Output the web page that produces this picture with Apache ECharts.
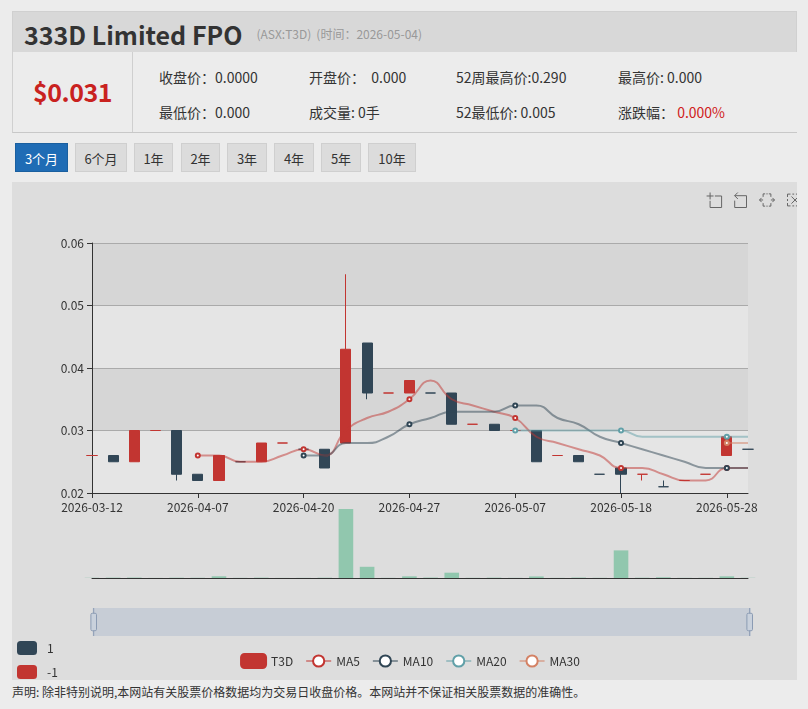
<!DOCTYPE html>
<html>
<head>
<meta charset="utf-8">
<title>333D Limited FPO</title>
<script src="https://cdn.jsdelivr.net/npm/echarts/dist/echarts.min.js"></script>
<style>
  body{
	margin:0;
	background:#ececec;
	font-family:"Noto Sans CJK SC","Noto Sans",sans-serif;
	color:#333;
  }
  .wrap{
	position:absolute;
	left:12px;
	top:11px;
	width:785px;
  }
  .stock_hd{
	height:41px;
	line-height:38px;
	background:#d8d8d8;
	border:1px solid #d0d0d0;
	border-bottom:none;
	padding-left:11px;
	box-sizing:border-box;
	white-space:nowrap;
  }
  .stock_hd b{
	font-size:25px;
	color:#333;
	vertical-align:middle;
  }
  .stock_hd span{
	font-size:12px;
	color:#999;
	margin-left:14px;
	vertical-align:middle;
  }
  .stock_hd span + span{margin-left:5px;}
  .stock_info{
	position:relative;
	height:80px;
	border-left:1px solid #d0d0d0;
	border-bottom:1px solid #c8c8c8;
  }
  .stock_price{
	position:absolute;
	left:0;
	top:0;
	width:119px;
	height:80px;
	line-height:78px;
	text-align:center;
	border-right:1px solid #cfcfcf;
	color:#c9221f;
	font-size:25px;
	font-weight:bold;
	letter-spacing:-0.5px;
  }
  .stock_item{
	position:absolute;
	font-size:14px;
	white-space:nowrap;
	line-height:20px;
  }
  .red{color:#d02020;}
  .btns{
	position:absolute;
	top:132px;
	left:3px;
  }
  .btn{
	position:absolute;
	top:0;
	height:29px;
	line-height:29px;
	text-align:center;
	font-size:13px;
	background:#dcdcdc;
	border:1px solid #cfcfcf;
	box-sizing:border-box;
	color:#333;
  }
  .btn.curr{
	background:#1f6cb5;
	border-color:#1a5f9f;
	color:#fff;
  }
  .chart_box{
	position:absolute;
	top:171px;
	left:0;
	width:785px;
	height:498px;
	background:#dddddd;
	overflow:hidden;
  }
  #chart{
	width:796px;
	height:500px;
  }
  .note{
	position:absolute;
	top:672px;
	left:0;
	font-size:12px;
	white-space:nowrap;
	color:#333;
  }
</style>
</head>
<body>
<div class="wrap">
	<div class="stock_hd"><b>333D Limited FPO</b><span>(ASX:T3D)</span><span>(时间：2026-05-04)</span></div>
	<div class="stock_info">
		<div class="stock_price">$0.031</div>
		<div class="stock_item" style="left:146px;top:15px;">收盘价：0.0000</div>
		<div class="stock_item" style="left:296px;top:15px;">开盘价：&nbsp; 0.000</div>
		<div class="stock_item" style="left:443px;top:15px;">52周最高价:0.290</div>
		<div class="stock_item" style="left:605px;top:15px;">最高价: 0.000</div>
		<div class="stock_item" style="left:146px;top:50px;">最低价：0.000</div>
		<div class="stock_item" style="left:296px;top:50px;">成交量: 0手</div>
		<div class="stock_item" style="left:443px;top:50px;">52最低价: 0.005</div>
		<div class="stock_item" style="left:605px;top:50px;">涨跌幅：&nbsp;<span class="red">0.000%</span></div>
	</div>
	<div class="btns">
		<div class="btn curr" style="left:0;width:53px;">3个月</div>
		<div class="btn" style="left:60px;width:52px;">6个月</div>
		<div class="btn" style="left:119px;width:39px;">1年</div>
		<div class="btn" style="left:166px;width:39px;">2年</div>
		<div class="btn" style="left:212px;width:40px;">3年</div>
		<div class="btn" style="left:259px;width:40px;">4年</div>
		<div class="btn" style="left:306px;width:40px;">5年</div>
		<div class="btn" style="left:353px;width:48px;">10年</div>
	</div>
	<div class="chart_box"><div id="chart"></div></div>
	<div class="note">声明: 除非特别说明,本网站有关股票价格数据均为交易日收盘价格。本网站并不保证相关股票数据的准确性。</div>
</div>

<script>
	var dates = ['2026-03-12','2026-03-16','2026-03-20','2026-03-25','2026-04-01','2026-04-07','2026-04-08','2026-04-10',
		'2026-04-14','2026-04-16','2026-04-20','2026-04-21','2026-04-22','2026-04-23','2026-04-24','2026-04-27',
		'2026-04-28','2026-04-30','2026-05-01','2026-05-05','2026-05-07','2026-05-08','2026-05-11','2026-05-13',
		'2026-05-14','2026-05-18','2026-05-19','2026-05-21','2026-05-22','2026-05-26','2026-05-28','2026-05-29'];

	var opens  = [0.026,0.026,0.025,0.030,0.030,0.023,0.022,0.025,0.025,0.028,0.027,0.027,0.028,0.044,0.036,0.036,
		0.036,0.036,0.031,0.031,0.030,0.030,0.026,0.026,0.023,0.024,0.023,0.021,0.022,0.023,0.026,0.027];
	var closes = [0.026,0.025,0.030,0.030,0.023,0.022,0.026,0.025,0.028,0.028,0.027,0.024,0.043,0.036,0.036,0.038,
		0.036,0.031,0.031,0.030,0.030,0.025,0.026,0.025,0.023,0.023,0.023,0.021,0.022,0.023,0.029,0.027];
	var lows   = [0.026,0.025,0.025,0.030,0.022,0.022,0.022,0.025,0.025,0.028,0.027,0.024,0.028,0.035,0.036,0.036,
		0.036,0.031,0.031,0.030,0.030,0.025,0.026,0.025,0.023,0.020,0.022,0.021,0.022,0.023,0.026,0.027];
	var highs  = [0.026,0.026,0.030,0.030,0.030,0.023,0.026,0.025,0.028,0.028,0.027,0.027,0.055,0.044,0.036,0.038,
		0.036,0.036,0.031,0.031,0.030,0.030,0.026,0.026,0.023,0.024,0.023,0.022,0.022,0.023,0.029,0.027];

	var volumes = [8000,12000,15000,3000,10000,8000,60000,5000,12000,3000,4000,10000,2400000,390000,5000,58000,
		15000,185000,6000,12000,5000,55000,4000,15000,6000,960000,10000,25000,5000,6000,58000,8000];

	var ma5  = ['-','-','-','-','-',0.026,0.026,0.025,0.025,0.026,0.027,0.026,0.030,0.032,0.033,0.035,
		0.038,0.035,0.034,0.033,0.032,0.029,0.028,0.027,0.026,0.024,0.024,0.023,0.022,0.022,0.024,0.024];
	var ma10 = ['-','-','-','-','-','-','-','-','-','-',0.026,0.026,0.028,0.028,0.029,0.031,
		0.032,0.033,0.033,0.033,0.034,0.034,0.032,0.031,0.029,0.028,0.027,0.026,0.025,0.024,0.024,0.024];
	var ma20 = ['-','-','-','-','-','-','-','-','-','-','-','-','-','-','-','-',
		'-','-','-','-',0.030,0.030,0.030,0.030,0.030,0.030,0.029,0.029,0.029,0.029,0.029,0.029];
	var ma30 = ['-','-','-','-','-','-','-','-','-','-','-','-','-','-','-','-',
		'-','-','-','-','-','-','-','-','-','-','-','-','-','-',0.028,0.028];

	var upColor = '#c23531';
	var downColor = '#314656';

	var candles = dates.map(function(d, i){
		return [opens[i], closes[i], lows[i], highs[i]];
	});

	function maSeries(name, data, color){
		return {
			name: name,
			type: 'line',
			data: data,
			smooth: true,
			symbol: 'emptyCircle',
			symbolSize: 4,
			showAllSymbol: false,   // 只在有刻度标签的位置画点
			itemStyle: {color: color},
			lineStyle: {color: color, width: 2, opacity: 0.5}
		};
	}

	var myChart = echarts.init(document.getElementById('chart'));

	var option = {
		animation: false,
		textStyle: {fontFamily: '"Noto Sans CJK SC","Noto Sans",sans-serif'},
		legend: {
			top: 466,
			left: 'center',
			itemWidth: 25,
			itemHeight: 14,
			itemGap: 12,
			textStyle: {color: '#333', fontSize: 12},
			data: ['T3D', 'MA5', 'MA10', 'MA20', 'MA30']
		},
		toolbox: {
			right: -12,
			top: -7,
			itemSize: 15,
			itemGap: 8,
			iconStyle: {borderColor: '#666'},
			feature: {
				dataZoom: {yAxisIndex: false},
				brush: {type: ['lineX', 'clear']}
			}
		},
		brush: {
			xAxisIndex: 'all',
			brushLink: 'all',
			outOfBrush: {colorAlpha: 0.1}
		},
		visualMap: {
			type: 'piecewise',
			show: true,
			seriesIndex: [],
			dimension: 2,
			left: -10,
			bottom: -12,
			itemWidth: 20,
			itemHeight: 14,
			itemGap: 10,
			textStyle: {color: '#333'},
			pieces: [
				{value: 1, color: downColor},
				{value: -1, color: upColor}
			]
		},
		grid: [
			{left: 80, right: 60, top: 61, height: 250},
			{left: 80, right: 60, top: 327, height: 69}
		],
		xAxis: [
			{
				type: 'category',
				data: dates,
				boundaryGap: false,
				axisLine: {onZero: false, lineStyle: {color: '#333'}},
				axisTick: {interval: 4, lineStyle: {color: '#333'}},
				axisLabel: {interval: 4, color: '#333', fontSize: 12},
				splitLine: {show: false},
				min: 'dataMin',
				max: 'dataMax'
			},
			{
				type: 'category',
				gridIndex: 1,
				data: dates,
				boundaryGap: false,
				axisLine: {onZero: false, lineStyle: {color: '#333'}},
				axisTick: {show: false},
				axisLabel: {show: false},
				splitLine: {show: false},
				min: 'dataMin',
				max: 'dataMax'
			}
		],
		yAxis: [
			{
				scale: true,
				min: 0.02,
				max: 0.06,
				interval: 0.01,
				axisLine: {show: true, lineStyle: {color: '#333'}},
				axisTick: {show: true, lineStyle: {color: '#333'}},
				axisLabel: {color: '#333', fontSize: 12},
				splitLine: {show: true, lineStyle: {color: '#aaaaaa'}},
				splitArea: {
					show: true,
					areaStyle: {color: ['rgba(250,250,250,0.3)', 'rgba(200,200,200,0.3)']}
				}
			},
			{
				gridIndex: 1,
				min: 0,
				max: 'dataMax',
				splitNumber: 2,
				axisLabel: {show: false},
				axisLine: {show: false},
				axisTick: {show: false},
				splitLine: {show: false}
			}
		],
		dataZoom: [
			{type: 'inside', xAxisIndex: [0, 1], start: 0, end: 100},
			{
				type: 'slider',
				xAxisIndex: [0, 1],
				left: 80,
				right: 58,
				top: 426,
				height: 28,
				start: 0,
				end: 100,
				showDataShadow: false,
				showDetail: false,
				brushSelect: false,
				moveHandleSize: 0,
				backgroundColor: 'transparent',
				borderColor: 'transparent',
				fillerColor: 'rgba(167,183,204,0.4)',
				handleIcon: 'path://M-9.35,34.56V42m0-40V9.5m-2,0h4a2,2,0,0,1,2,2v21a2,2,0,0,1-2,2h-4a2,2,0,0,1-2-2v-21A2,2,0,0,1-11.35,9.5Z',
				handleSize: '100%',
				handleStyle: {color: '#c9d1dc', borderColor: '#8b9bb3'}
			}
		],
		series: [
			{
				name: 'T3D',
				type: 'candlestick',
				data: candles,
				itemStyle: {
					color: upColor,
					color0: downColor,
					borderColor: upColor,
					borderColor0: downColor
				}
			},
			maSeries('MA5', ma5, '#c23531'),
			maSeries('MA10', ma10, '#2f4554'),
			maSeries('MA20', ma20, '#61a0a8'),
			maSeries('MA30', ma30, '#d48265'),
			{
				name: 'Volume',
				type: 'bar',
				xAxisIndex: 1,
				yAxisIndex: 1,
				data: volumes,
				itemStyle: {color: '#91c7ae'}
			}
		]
	};

	myChart.setOption(option);
</script>
</body>
</html>
